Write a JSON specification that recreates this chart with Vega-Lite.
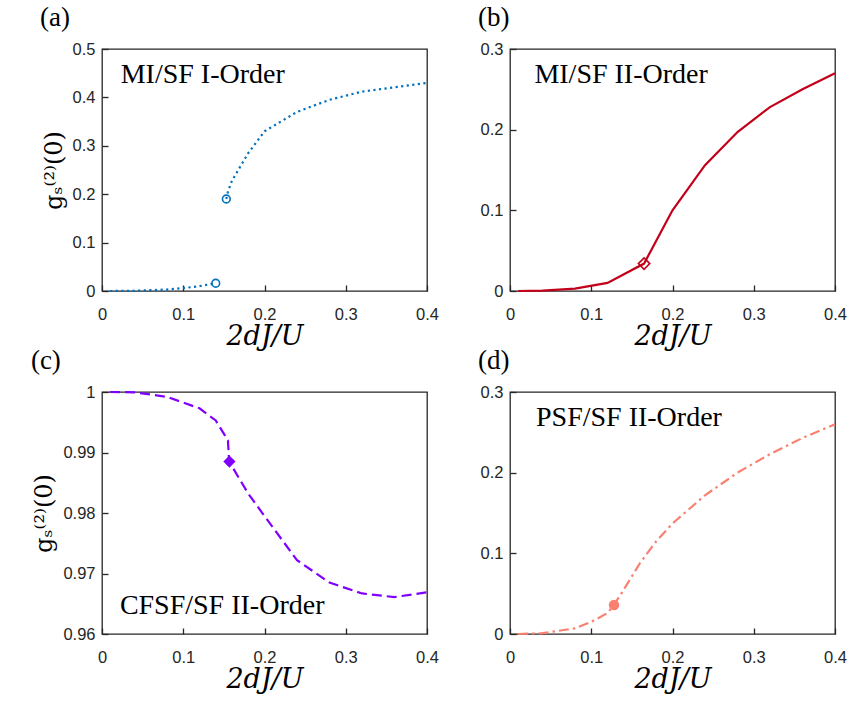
{
  "$schema": "https://vega.github.io/schema/vega-lite/v6.json",
  "background": "white",
  "padding": {"left": 30, "top": 3, "right": 5, "bottom": 5},
  "autosize": {"type": "pad"},
  "datasets": {
    "curves": [
      {"panel": "a", "seg": 1, "x": 0.01, "y": 0},
      {"panel": "a", "seg": 1, "x": 0.04, "y": 0.0005},
      {"panel": "a", "seg": 1, "x": 0.08, "y": 0.003},
      {"panel": "a", "seg": 1, "x": 0.1, "y": 0.006},
      {"panel": "a", "seg": 1, "x": 0.12, "y": 0.01},
      {"panel": "a", "seg": 1, "x": 0.14, "y": 0.016},
      {"panel": "a", "seg": 2, "x": 0.153, "y": 0.19},
      {"panel": "a", "seg": 2, "x": 0.155, "y": 0.205},
      {"panel": "a", "seg": 2, "x": 0.16, "y": 0.228},
      {"panel": "a", "seg": 2, "x": 0.18, "y": 0.285},
      {"panel": "a", "seg": 2, "x": 0.2, "y": 0.33},
      {"panel": "a", "seg": 2, "x": 0.24, "y": 0.37},
      {"panel": "a", "seg": 2, "x": 0.28, "y": 0.395},
      {"panel": "a", "seg": 2, "x": 0.32, "y": 0.412},
      {"panel": "a", "seg": 2, "x": 0.36, "y": 0.421},
      {"panel": "a", "seg": 2, "x": 0.4, "y": 0.43},
      {"panel": "b", "seg": 1, "x": 0.01, "y": 0},
      {"panel": "b", "seg": 1, "x": 0.04, "y": 0.0005},
      {"panel": "b", "seg": 1, "x": 0.08, "y": 0.003},
      {"panel": "b", "seg": 1, "x": 0.12, "y": 0.01},
      {"panel": "b", "seg": 1, "x": 0.165, "y": 0.034},
      {"panel": "b", "seg": 1, "x": 0.2, "y": 0.1},
      {"panel": "b", "seg": 1, "x": 0.24, "y": 0.156},
      {"panel": "b", "seg": 1, "x": 0.28, "y": 0.197},
      {"panel": "b", "seg": 1, "x": 0.32, "y": 0.228},
      {"panel": "b", "seg": 1, "x": 0.36, "y": 0.25},
      {"panel": "b", "seg": 1, "x": 0.4, "y": 0.27},
      {"panel": "c", "seg": 1, "x": 0.01, "y": 1.0},
      {"panel": "c", "seg": 1, "x": 0.04, "y": 0.99995},
      {"panel": "c", "seg": 1, "x": 0.08, "y": 0.9992},
      {"panel": "c", "seg": 1, "x": 0.12, "y": 0.9973},
      {"panel": "c", "seg": 1, "x": 0.14, "y": 0.9953},
      {"panel": "c", "seg": 1, "x": 0.155, "y": 0.992},
      {"panel": "c", "seg": 1, "x": 0.1565, "y": 0.9885},
      {"panel": "c", "seg": 1, "x": 0.18, "y": 0.9832},
      {"panel": "c", "seg": 1, "x": 0.2, "y": 0.9795},
      {"panel": "c", "seg": 1, "x": 0.24, "y": 0.9722},
      {"panel": "c", "seg": 1, "x": 0.28, "y": 0.9685},
      {"panel": "c", "seg": 1, "x": 0.32, "y": 0.9667},
      {"panel": "c", "seg": 1, "x": 0.36, "y": 0.9661},
      {"panel": "c", "seg": 1, "x": 0.4, "y": 0.9669},
      {"panel": "d", "seg": 1, "x": 0.01, "y": 0},
      {"panel": "d", "seg": 1, "x": 0.04, "y": 0.001},
      {"panel": "d", "seg": 1, "x": 0.08, "y": 0.007},
      {"panel": "d", "seg": 1, "x": 0.1, "y": 0.015},
      {"panel": "d", "seg": 1, "x": 0.12, "y": 0.026},
      {"panel": "d", "seg": 1, "x": 0.128, "y": 0.036},
      {"panel": "d", "seg": 1, "x": 0.14, "y": 0.055},
      {"panel": "d", "seg": 1, "x": 0.16, "y": 0.088},
      {"panel": "d", "seg": 1, "x": 0.18, "y": 0.115},
      {"panel": "d", "seg": 1, "x": 0.2, "y": 0.137},
      {"panel": "d", "seg": 1, "x": 0.24, "y": 0.172},
      {"panel": "d", "seg": 1, "x": 0.28, "y": 0.2},
      {"panel": "d", "seg": 1, "x": 0.32, "y": 0.223},
      {"panel": "d", "seg": 1, "x": 0.36, "y": 0.243},
      {"panel": "d", "seg": 1, "x": 0.4, "y": 0.26}
    ],
    "markers": [
      {"panel": "a", "x": 0.14, "y": 0.016},
      {"panel": "a", "x": 0.153, "y": 0.19},
      {"panel": "b", "x": 0.165, "y": 0.034},
      {"panel": "c", "x": 0.1568, "y": 0.9885},
      {"panel": "d", "x": 0.128, "y": 0.036}
    ]
  },
  "columns": 2,
  "spacing": {"row": 101, "column": 83},
  "bounds": "flush",
  "concat": [
    {
      "title": {"text": "(a)"},
      "width": 325, "height": 242,
      "layer": [
        {
          "data": {"name": "curves"}, "transform": [{"filter": "datum.panel === 'a'"}],
          "mark": {"type": "line", "color": "#0072BD", "strokeWidth": 2.2, "strokeDash": [2.2, 3.4]},
          "encoding": {
            "x": {"field": "x", "type": "quantitative", "scale": {"domain": [0, 0.4], "nice": false}, "axis": {"orient": "bottom", "values": [0, 0.1, 0.2, 0.3, 0.4], "format": "~g", "ticks": true, "tickSize": -6, "tickColor": "#262626", "tickWidth": 1.3, "labelPadding": 21, "labelFlush": false, "labelFont": "Liberation Sans", "labelFontSize": 16.5, "labelColor": "#262626", "title": "2dJ/U", "titleFont": "DejaVu Serif", "titleFontStyle": "italic", "titleFontSize": 27, "titleFontWeight": "normal", "titleColor": "#000000", "titlePadding": 1}},
            "y": {"field": "y", "type": "quantitative", "scale": {"domain": [0, 0.5], "nice": false}, "axis": {"orient": "left", "values": [0, 0.1, 0.2, 0.3, 0.4, 0.5], "format": "~g", "ticks": true, "tickSize": -6, "tickColor": "#262626", "tickWidth": 1.3, "labelPadding": 13, "labelFont": "Liberation Sans", "labelFontSize": 16.5, "labelColor": "#262626", "title": "gₛ⁽²⁾(0)", "titleFont": "DejaVu Serif", "titleFontSize": 24, "titleFontWeight": "normal", "titleColor": "#000000", "titlePadding": 6}},
            "detail": {"field": "seg"}
          }
        },
        {
          "data": {"name": "markers"}, "transform": [{"filter": "datum.panel === 'a'"}],
          "mark": {"type": "point", "shape": "circle", "filled": false, "color": "#0072BD", "size": 60, "strokeWidth": 1.6, "opacity": 1},
          "encoding": {
            "x": {"field": "x", "type": "quantitative"},
            "y": {"field": "y", "type": "quantitative"}
          }
        },
        {
          "data": {"values": [{"label": "MI/SF I-Order"}]},
          "mark": {"type": "text", "align": "left", "baseline": "middle", "font": "Liberation Serif", "fontSize": 28, "color": "#000000"},
          "encoding": {
            "x": {"datum": 0.023, "type": "quantitative"},
            "y": {"datum": 0.446, "type": "quantitative"},
            "text": {"field": "label"}
          }
        }
      ]
    },
    {
      "title": {"text": "(b)"},
      "width": 325, "height": 242,
      "layer": [
        {
          "data": {"name": "curves"}, "transform": [{"filter": "datum.panel === 'b'"}],
          "mark": {"type": "line", "color": "#C3001A", "strokeWidth": 2.2},
          "encoding": {
            "x": {"field": "x", "type": "quantitative", "scale": {"domain": [0, 0.4], "nice": false}, "axis": {"orient": "bottom", "values": [0, 0.1, 0.2, 0.3, 0.4], "format": "~g", "ticks": true, "tickSize": -6, "tickColor": "#262626", "tickWidth": 1.3, "labelPadding": 21, "labelFlush": false, "labelFont": "Liberation Sans", "labelFontSize": 16.5, "labelColor": "#262626", "title": "2dJ/U", "titleFont": "DejaVu Serif", "titleFontStyle": "italic", "titleFontSize": 27, "titleFontWeight": "normal", "titleColor": "#000000", "titlePadding": 1}},
            "y": {"field": "y", "type": "quantitative", "scale": {"domain": [0, 0.3], "nice": false}, "axis": {"orient": "left", "values": [0, 0.1, 0.2, 0.3], "format": "~g", "ticks": true, "tickSize": -6, "tickColor": "#262626", "tickWidth": 1.3, "labelPadding": 13, "labelFont": "Liberation Sans", "labelFontSize": 16.5, "labelColor": "#262626", "title": null}}
          }
        },
        {
          "data": {"name": "markers"}, "transform": [{"filter": "datum.panel === 'b'"}],
          "mark": {"type": "point", "shape": "diamond", "filled": false, "color": "#C3001A", "size": 130, "strokeWidth": 1.6, "opacity": 1},
          "encoding": {
            "x": {"field": "x", "type": "quantitative"},
            "y": {"field": "y", "type": "quantitative"}
          }
        },
        {
          "data": {"values": [{"label": "MI/SF II-Order"}]},
          "mark": {"type": "text", "align": "left", "baseline": "middle", "font": "Liberation Serif", "fontSize": 28, "color": "#000000"},
          "encoding": {
            "x": {"datum": 0.03, "type": "quantitative"},
            "y": {"datum": 0.2676, "type": "quantitative"},
            "text": {"field": "label"}
          }
        }
      ]
    },
    {
      "title": {"text": "(c)"},
      "width": 325, "height": 242,
      "layer": [
        {
          "data": {"name": "curves"}, "transform": [{"filter": "datum.panel === 'c'"}],
          "mark": {"type": "line", "color": "#8000FF", "strokeWidth": 2.2, "strokeDash": [10, 5]},
          "encoding": {
            "x": {"field": "x", "type": "quantitative", "scale": {"domain": [0, 0.4], "nice": false}, "axis": {"orient": "bottom", "values": [0, 0.1, 0.2, 0.3, 0.4], "format": "~g", "ticks": true, "tickSize": -6, "tickColor": "#262626", "tickWidth": 1.3, "labelPadding": 21, "labelFlush": false, "labelFont": "Liberation Sans", "labelFontSize": 16.5, "labelColor": "#262626", "title": "2dJ/U", "titleFont": "DejaVu Serif", "titleFontStyle": "italic", "titleFontSize": 27, "titleFontWeight": "normal", "titleColor": "#000000", "titlePadding": 1}},
            "y": {"field": "y", "type": "quantitative", "scale": {"domain": [0.96, 1], "nice": false, "zero": false}, "axis": {"orient": "left", "values": [0.96, 0.97, 0.98, 0.99, 1], "format": "~g", "ticks": true, "tickSize": -6, "tickColor": "#262626", "tickWidth": 1.3, "labelPadding": 13, "labelFont": "Liberation Sans", "labelFontSize": 16.5, "labelColor": "#262626", "title": "gₛ⁽²⁾(0)", "titleFont": "DejaVu Serif", "titleFontSize": 24, "titleFontWeight": "normal", "titleColor": "#000000", "titlePadding": 6}}
          }
        },
        {
          "data": {"name": "markers"}, "transform": [{"filter": "datum.panel === 'c'"}],
          "mark": {"type": "point", "shape": "diamond", "filled": true, "color": "#8000FF", "size": 150, "opacity": 1},
          "encoding": {
            "x": {"field": "x", "type": "quantitative"},
            "y": {"field": "y", "type": "quantitative"}
          }
        },
        {
          "data": {"values": [{"label": "CFSF/SF II-Order"}]},
          "mark": {"type": "text", "align": "left", "baseline": "middle", "font": "Liberation Serif", "fontSize": 28, "color": "#000000"},
          "encoding": {
            "x": {"datum": 0.022, "type": "quantitative"},
            "y": {"datum": 0.9647, "type": "quantitative"},
            "text": {"field": "label"}
          }
        }
      ]
    },
    {
      "title": {"text": "(d)"},
      "width": 325, "height": 242,
      "layer": [
        {
          "data": {"name": "curves"}, "transform": [{"filter": "datum.panel === 'd'"}],
          "mark": {"type": "line", "color": "#FA8072", "strokeWidth": 2.2, "strokeDash": [10, 4, 2.5, 4]},
          "encoding": {
            "x": {"field": "x", "type": "quantitative", "scale": {"domain": [0, 0.4], "nice": false}, "axis": {"orient": "bottom", "values": [0, 0.1, 0.2, 0.3, 0.4], "format": "~g", "ticks": true, "tickSize": -6, "tickColor": "#262626", "tickWidth": 1.3, "labelPadding": 21, "labelFlush": false, "labelFont": "Liberation Sans", "labelFontSize": 16.5, "labelColor": "#262626", "title": "2dJ/U", "titleFont": "DejaVu Serif", "titleFontStyle": "italic", "titleFontSize": 27, "titleFontWeight": "normal", "titleColor": "#000000", "titlePadding": 1}},
            "y": {"field": "y", "type": "quantitative", "scale": {"domain": [0, 0.3], "nice": false}, "axis": {"orient": "left", "values": [0, 0.1, 0.2, 0.3], "format": "~g", "ticks": true, "tickSize": -6, "tickColor": "#262626", "tickWidth": 1.3, "labelPadding": 13, "labelFont": "Liberation Sans", "labelFontSize": 16.5, "labelColor": "#262626", "title": null}}
          }
        },
        {
          "data": {"name": "markers"}, "transform": [{"filter": "datum.panel === 'd'"}],
          "mark": {"type": "point", "shape": "circle", "filled": true, "color": "#FA8072", "size": 110, "opacity": 1},
          "encoding": {
            "x": {"field": "x", "type": "quantitative"},
            "y": {"field": "y", "type": "quantitative"}
          }
        },
        {
          "data": {"values": [{"label": "PSF/SF II-Order"}]},
          "mark": {"type": "text", "align": "left", "baseline": "middle", "font": "Liberation Serif", "fontSize": 28, "color": "#000000"},
          "encoding": {
            "x": {"datum": 0.032, "type": "quantitative"},
            "y": {"datum": 0.2674, "type": "quantitative"},
            "text": {"field": "label"}
          }
        }
      ]
    }
  ],
  "config": {
    "view": {"stroke": "#262626", "strokeWidth": 1.3},
    "title": {"anchor": "start", "font": "Liberation Serif", "fontSize": 27, "fontWeight": "normal", "color": "#000000", "offset": 9, "dx": -2},
    "axis": {"domain": false, "grid": false}
  }
}
